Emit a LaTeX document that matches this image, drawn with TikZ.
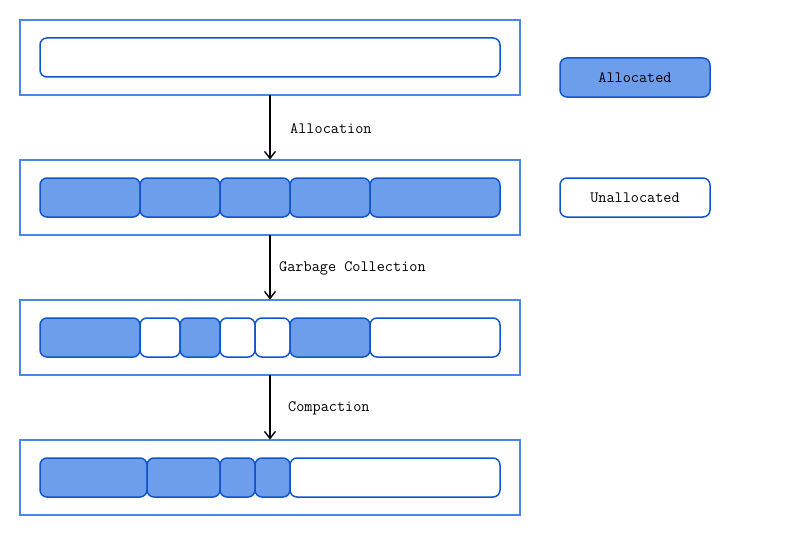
\documentclass[tikz,border=0pt]{standalone}
\usepackage{fontspec}
\usetikzlibrary{arrows.meta,positioning}
\definecolor{outerblue}{HTML}{4A86E8}
\definecolor{segline}{HTML}{1155CC}
\definecolor{segfill}{HTML}{6D9EEB}
\tikzset{
  outerbox/.style={draw=outerblue, line width=1.6pt, fill=white},
  seg/.style={draw=segline, line width=1.5pt, rounded corners=7pt},
  alloc/.style={seg, fill=segfill},
  free/.style={seg, fill=white},
  conn/.style={-{Straight Barb[length=7pt,width=11pt]}, line width=1.4pt, black},
  txt/.style={font=\ttfamily\fontsize{15.8}{18}\selectfont, inner sep=0pt},
  lbl/.style={txt, anchor=west},
}
\newcommand{\segbox}[6]{% style, name, x1, y1, x2, y2
  \path[#1] (#3,#4) rectangle (#5,#6);
  \coordinate (#2) at ({(#3+#5)/2},{(#4+#6)/2});
}
\begin{document}
\begin{tikzpicture}[x=1pt,y=-1pt]
\useasboundingbox (0,0) rectangle (798,535);
% outer boxes
\draw[outerbox] (20,20) rectangle (520,95);
\draw[outerbox] (20,160) rectangle (520,235);
\draw[outerbox] (20,300) rectangle (520,375);
\draw[outerbox] (20,440) rectangle (520,515);
\coordinate (b1s) at (270,95);
\coordinate (b2n) at (270,159.5);
\coordinate (b2s) at (270,235);
\coordinate (b3n) at (270,299.5);
\coordinate (b3s) at (270,375);
\coordinate (b4n) at (270,439.5);
% row 1
\segbox{free}{r1a}{40}{38}{500}{77}
% row 2
\segbox{alloc}{r2a}{40}{178}{140}{217}
\segbox{alloc}{r2b}{140}{178}{220}{217}
\segbox{alloc}{r2c}{220}{178}{290}{217}
\segbox{alloc}{r2d}{290}{178}{370}{217}
\segbox{alloc}{r2e}{370}{178}{500}{217}
% row 3
\segbox{alloc}{r3a}{40}{318}{140}{357}
\segbox{free}{r3b}{140}{318}{180}{357}
\segbox{alloc}{r3c}{180}{318}{220}{357}
\segbox{free}{r3d}{220}{318}{255}{357}
\segbox{free}{r3e}{255}{318}{290}{357}
\segbox{alloc}{r3f}{290}{318}{370}{357}
\segbox{free}{r3g}{370}{318}{500}{357}
% row 4
\segbox{alloc}{r4a}{40}{458}{147}{497}
\segbox{alloc}{r4b}{147}{458}{220}{497}
\segbox{alloc}{r4c}{220}{458}{255}{497}
\segbox{alloc}{r4d}{255}{458}{290}{497}
\segbox{free}{r4e}{290}{458}{500}{497}
% legend
\path[alloc] (560,58) rectangle (710,97);
\node[txt] (legA) at (635,78) {Allocated};
\path[free] (560,178) rectangle (710,217);
\node[txt] (legU) at (635,198) {Unallocated};
% connectors
\draw[conn] (b1s) -- (b2n);
\draw[conn] (b2s) -- (b3n);
\draw[conn] (b3s) -- (b4n);
\node[lbl] (l1) at (290,128.5) {Allocation};
\node[lbl] (l2) at (279,268.5) {Garbage Collection};
\node[lbl] (l3) at (288,408.5) {Compaction};
\end{tikzpicture}
\end{document}
